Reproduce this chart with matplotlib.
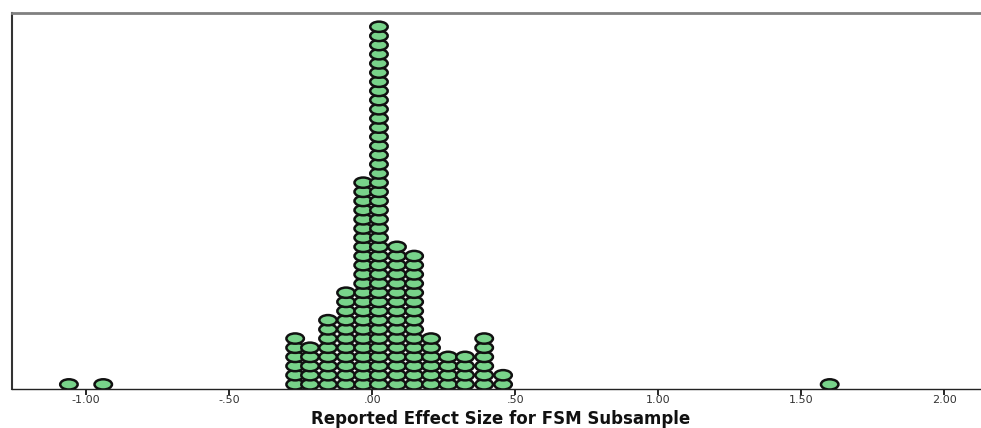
import matplotlib

matplotlib.use('Agg')
import matplotlib.pyplot as plt
from matplotlib.patches import Ellipse

# dot plot bins: centre of each stack and how many studies sit in it
bin_centers = [-1.06, -0.94, -0.269, -0.217, -0.154, -0.091, -0.031, 0.024,
               0.087, 0.147, 0.206, 0.266, 0.325, 0.392, 0.458, 1.60]
counts = [1, 1, 6, 5, 8, 11, 23, 40, 16, 15, 6, 4, 4, 6, 2, 1]

tick_vals = [-1.0, -0.5, 0.0, 0.5, 1.0, 1.5, 2.0]
tick_labels = ['-1.00', '-.50', '.00', '.50', '1.00', '1.50', '2.00']

plt.rcParams['font.family'] = ['DejaVu Sans']

fig = plt.figure(figsize=(9.81, 4.28), dpi=100)
ax = fig.add_axes([12 / 981, 39 / 428, 969 / 981, 376 / 428])

dot_w = 0.061
dot_h = 1.12
for x, n in zip(bin_centers, counts):
    for k in range(n):
        ax.add_patch(Ellipse((x, k + 0.5), dot_w, dot_h, facecolor='#78d38a',
                             edgecolor='#111111', linewidth=1.8))

ax.set_xlim(-1.259, 2.129)
ax.set_ylim(0, 41.0)
ax.set_yticks([])
ax.set_xticks(tick_vals)
ax.set_xticklabels(tick_labels, fontsize=8, color='#333333')
ax.tick_params(axis='x', direction='out', length=4, width=1.2, pad=0.5)

ax.spines['top'].set_color('#808080')
ax.spines['top'].set_linewidth(2)
ax.spines['left'].set_color('#333333')
ax.spines['left'].set_linewidth(1.5)
ax.spines['bottom'].set_color('#222222')
ax.spines['bottom'].set_linewidth(1)
ax.spines['right'].set_visible(False)

fig.text(0.51, 1 - 419 / 428, 'Reported Effect Size for FSM Subsample',
         fontsize=12, fontweight='bold', ha='center', va='center',
         color='#111111')

plt.savefig('out.png', dpi=100)
